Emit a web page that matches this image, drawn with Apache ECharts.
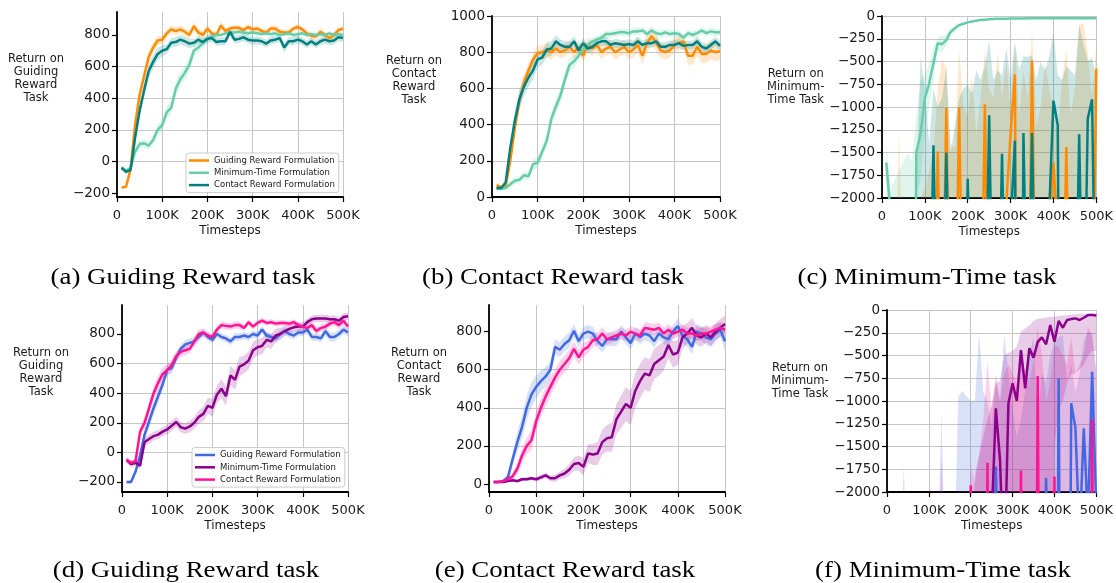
<!DOCTYPE html>
<html><head><meta charset="utf-8">
<script src="https://cdn.jsdelivr.net/npm/echarts@6/dist/echarts.min.js"></script>
<style>html,body{margin:0;padding:0;background:#fff}#c{width:1116px;height:583px}</style>
</head><body><div id="c"></div>
<script>
// ---------- data (x in thousands of timesteps) ----------
const steps = [10,20,30,40,50,60,70,80,90,100,110,120,130,140,150,160,170,180,190,200,
  210,220,230,240,250,260,270,280,290,300,310,320,330,340,350,360,370,380,390,400,
  410,420,430,440,450,460,470,480,490,500];
const xTickLabels = ['0','100K','200K','300K','400K','500K'];
const legendNames = ['Guiding Reward Formulation','Minimum-Time Formulation','Contact Reward Formulation'];
const captions = ['(a) Guiding Reward task','(b) Contact Reward task','(c) Minimum-Time task',
  '(d) Guiding Reward task','(e) Contact Reward task','(f) Minimum-Time task'];
const yNames = ['Return on\nGuiding\nReward\nTask','Return on\nContact\nReward\nTask','Return on\nMinimum-\nTime Task',
  'Return on\nGuiding\nReward\nTask','Return on\nContact\nReward\nTask','Return on\nMinimum-\nTime Task'];
const ticksA = [-200,0,200,400,600,800];
const ticksB = [0,200,400,600,800,1000];
const ticksC = [-2000,-1750,-1500,-1250,-1000,-750,-500,-250,0];
const ticksD = [-200,0,200,400,600,800];
const ticksE = [0,200,400,600,800];
const ticksF = [-2000,-1750,-1500,-1250,-1000,-750,-500,-250,0];
const offChart = -6000;

// (a) top row, Guiding Reward task
const aGuiding = [-165,-160,-50,230,420,540,660,720,765,770, 810,835,825,835,820,800,855,815,800,840,
  810,800,860,825,840,845,845,830,850,835, 840,825,815,840,840,820,815,815,840,850, 835,810,795,790,820,800,780,800,830,840];
const aGuidingSd = [8,8,15,30,40,40,40,35,30,25, 25,25,25,25,25,25,25,25,25,25, 20,20,25,20,20,20,20,20,20,20,
  20,20,20,20,20,20,20,20,20,20, 20,20,20,20,25,20,20,20,20,20];
const aMinTime = [-40,-60,-40,60,110,115,100,135,200,230, 310,340,460,520,560,610,700,720,750,775,
  790,800,800,810,815,815,820,815,810,815, 810,805,810,805,810,800,805,810,800,805, 810,800,805,800,805,800,810,800,805,800];
const aMinTimeSd = [15,15,15,20,25,25,25,30,35,40, 40,40,45,45,45,45,40,35,30,25, 20,20,15,15,15,15,15,15,15,15,
  15,15,15,15,15,15,15,15,15,15, 15,15,15,15,15,15,15,15,15,15];
const aContact = [-40,-65,-55,150,320,450,570,630,680,700, 710,750,755,770,760,745,750,770,755,775,
  780,755,760,760,820,770,775,785,770,765, 765,760,745,765,770,780,720,760,760,770, 760,740,760,740,760,770,760,765,785,780];
const aContactSd = [15,15,15,30,40,45,45,45,40,35, 30,30,30,30,30,30,25,25,25,25, 25,25,25,25,25,25,25,25,25,25,
  25,25,25,25,25,25,30,25,25,25, 25,25,25,25,25,25,25,25,25,25];

// (b) top row, Contact Reward task
const bGuiding = [65,55,60,200,380,530,630,700,760,795, 800,810,800,820,800,810,830,800,830,780,
  840,820,840,800,820,830,800,815,830,800, 815,840,780,850,890,850,810,800,810,840, 850,860,780,780,830,790,790,810,800,805];
const bGuidingSd = [15,10,15,40,50,50,45,40,40,40, 40,40,40,35,35,35,35,35,35,35, 40,40,40,40,40,40,40,40,40,40,
  40,45,50,50,50,45,40,40,40,40, 40,40,50,50,50,50,50,50,50,50];
const bMinTime = [45,45,50,70,90,95,120,115,180,190, 250,310,430,500,560,650,730,750,780,810,
  840,860,870,880,900,900,905,910,910,905, 915,915,920,900,920,905,900,910,900,905, 900,880,905,895,905,920,905,915,910,910];
const bMinTimeSd = [10,10,10,15,20,20,20,25,30,30, 35,35,40,40,45,45,40,35,30,25, 20,20,20,20,20,20,20,20,20,20,
  20,20,20,20,20,20,20,20,20,20, 20,20,20,20,20,20,20,20,20,20];
const bContact = [50,50,80,270,420,540,610,660,700,760, 770,815,820,860,840,830,830,860,810,850,
  820,830,850,860,860,840,850,845,840,845, 840,860,840,850,850,860,830,830,840,840, 850,835,840,840,860,830,820,840,860,835];
const bContactSd = [10,10,20,40,50,55,55,50,50,45, 40,40,40,35,30,30,30,30,30,30, 25,25,25,25,25,25,25,25,25,25,
  25,25,25,25,25,25,25,25,25,25, 25,25,25,25,25,25,25,25,25,25];

// (c) top row, Minimum-Time task (values below -2000 run off the chart)
const cGuiding = [-4000,-4000,-4000,-4000,-4000,-4000,-4000,-4000,-4000,-4000,
  -4000,-4000,-1490,-4000,-1010,-4000,-4000,-1000,-4000,-4000,
  -4000,-4000,-4000,-970,-4000,-4000,-4000,-4000,-2050,-1300,
  -640,-9000,-4000,-4000,-490,-4000,-4000,-4000,-2400,-1610,
  -2400,-4000,-1440,-4000,-4000,-4000,-4000,-4000,-4000,-580];
const cGuidingHi = [-3000,-3000,-3000,-1270,-3000,-3000,-3000,-3000,-2000,-1900,
  -1700,-1500,-800,-480,-560,-1400,-1450,-370,-1000,-1100,
  -650,-1300,-900,-380,-800,-900,-400,-900,-500,-1050,
  -300,-1100,-600,-900,-170,-1200,-1000,-500,-800,-1000,
  -1300,-700,-350,-1100,-800,-100,-80,-400,-900,-300];
const cMinTime = [-1610,-2170,-4000,-4000,-4000,-4000,-9000,-1500,-1290,-905,
  -740,-520,-300,-310,-265,-175,-135,-100,-85,-70,
  -60,-52,-45,-40,-36,-33,-31,-30,-29,-28,
  -27,-27,-27,-26,-26,-26,-26,-26,-26,-26,
  -26,-26,-26,-25,-25,-25,-25,-25,-25,-25];
const cMinTimeHi = [-1380,-1900,-1800,-1700,-1600,-1510,-1600,-1100,-700,-650,
  -520,-350,-230,-220,-200,-140,-110,-85,-72,-60,
  -52,-46,-40,-36,-32,-30,-28,-27,-26,-25,
  -25,-24,-24,-23,-23,-23,-23,-23,-23,-23,
  -23,-23,-23,-22,-22,-22,-22,-22,-22,-22];
const cMinTimeLo = [-2400,-3000,-3000,-3000,-3000,-3000,-3000,-2000,-1800,-1300,
  -1000,-700,-380,-400,-330,-210,-165,-120,-100,-82,
  -70,-60,-52,-46,-42,-38,-35,-34,-33,-32,
  -31,-31,-30,-30,-30,-30,-30,-30,-30,-30,
  -30,-30,-30,-29,-29,-29,-29,-29,-29,-29];
const cContact = [-4000,-4000,-4000,-4000,-4000,-4000,-4000,-4000,-4000,-4000,
  -4000,-1420,-4000,-4000,-1500,-4000,-4000,-4000,-4000,-1790,
  -4000,-4000,-4000,-4000,-1090,-4000,-4000,-1515,-4000,-2300,
  -1370,-9000,-1285,-4000,-1285,-4000,-4000,-4000,-2150,-930,
  -1200,-9000,-4000,-4000,-4000,-1300,-4000,-1130,-915,-4000];
const cContactHi = [-3000,-3000,-3000,-3000,-3000,-3000,-3000,-1900,-460,-800,
  -1400,-800,-1000,-900,-560,-1500,-1200,-900,-800,-750,
  -850,-600,-700,-550,-270,-700,-600,-650,-350,-700,
  -280,-600,-440,-450,-430,-700,-500,-600,-450,-180,
  -650,-700,-550,-600,-650,-100,-300,-500,-450,-700];

// (d) bottom row, Guiding Reward task
const dGuiding = [-200,-200,-130,-20,120,210,300,380,460,560, 570,640,700,730,740,750,780,810,780,760,
  800,780,770,750,780,780,790,780,800,790, 830,790,780,770,800,820,800,790,810,810, 830,780,780,770,820,780,780,800,830,810];
const dGuidingSd = [10,10,20,30,40,45,45,45,40,35, 35,30,30,30,30,30,30,25,25,25, 25,25,25,25,25,25,25,25,25,25,
  25,25,25,25,25,25,25,25,25,25, 25,25,25,25,30,30,30,30,30,30];
const dMinTime = [-50,-80,-70,-90,70,90,110,120,140,155, 180,205,170,160,175,200,240,260,315,300,
  390,430,380,520,490,580,595,620,690,710, 720,760,750,790,800,820,835,845,850,850, 880,900,905,905,905,900,900,890,915,920];
const dMinTimeSd = [20,20,20,25,25,30,30,30,30,35, 35,35,35,35,40,40,45,50,55,60, 60,65,65,65,65,65,60,60,60,55,
  55,50,50,45,40,35,30,30,30,30, 25,25,25,25,25,25,25,25,25,25];
const dContact = [-50,-70,-60,140,200,300,400,470,530,555, 590,650,680,690,700,750,800,810,790,780,
  830,860,855,850,860,860,840,880,850,875, 890,875,880,870,875,875,870,880,860,850, 840,860,820,840,850,870,880,860,890,850];
const dContactSd = [15,15,20,30,40,40,45,45,45,40, 40,35,35,35,30,30,30,25,25,25, 25,25,25,25,25,25,20,20,20,20,
  20,20,20,20,20,20,20,20,20,20, 25,25,25,25,25,25,25,25,25,25];

// (e) bottom row, Contact Reward task
const eGuiding = [10,10,15,35,130,220,300,400,470,510, 540,565,600,720,705,735,755,805,750,790,
  800,790,750,725,760,760,760,800,770,740, 790,770,790,780,750,790,770,760,800,830, 780,760,720,800,790,770,760,790,810,750];
const eGuidingSd = [5,5,10,20,40,50,60,65,65,60, 55,50,45,40,40,40,40,35,35,35, 35,35,35,35,35,35,35,35,35,35,
  35,35,35,35,35,35,35,35,35,40, 40,40,40,40,40,40,40,40,40,50];
const eMinTime = [10,10,10,15,20,15,25,25,30,25, 35,45,30,30,45,55,75,105,110,90,
  160,155,160,220,240,245,340,380,420,400, 490,540,580,570,630,650,670,730,680,690, 770,790,820,780,770,790,770,800,820,840];
const eMinTimeSd = [5,5,5,5,10,10,10,10,10,10, 15,15,15,20,20,25,30,35,40,45, 50,55,60,65,70,75,80,85,90,90,
  90,90,85,85,80,80,75,70,70,65, 60,55,50,50,50,45,45,45,45,45];
const eContact = [10,10,15,25,40,80,150,200,230,330, 400,460,510,560,600,630,660,710,665,705,
  720,755,760,790,760,770,780,790,780,800, 790,780,820,815,810,820,790,810,790,800, 810,790,790,780,790,790,800,810,820,810];
const eContactSd = [5,5,10,15,20,30,40,45,50,50, 50,50,50,45,45,45,45,40,40,40, 35,35,35,35,30,30,30,30,30,30,
  30,30,30,30,30,30,30,30,30,30, 30,30,30,30,30,30,30,30,30,30];

// (f) bottom row, Minimum-Time task
const fGuiding = [-4000,-4000,-4000,-4000,-4000,-4000,-4000,-4000,-4000,-4000,
  -4000,-4000,-4000,-4000,-4000,-4000,-4000,-4000,-4000,-4000,
  -4000,-4000,-4000,-4000,-4000,-1720,-4000,-4000,-4000,-4000,
  -4000,-4000,-4000,-4000,-4000,-4000,-4000,-1845,-4000,-9000,
  -750,-9000,-9000,-1025,-1295,-2500,-1300,-2300,-680,-2200];
const fGuidingHi = [-3000,-3000,-3000,-1722,-3000,-3000,-3000,-3000,-3000,-3000,
  -3000,-3000,-1130,-3000,-3000,-3000,-950,-890,-950,-1000,
  -1000,-240,-900,-1000,-1300,-800,-1000,-256,-700,-1100,
  -1400,-1200,-900,-500,-300,-1200,-700,-800,-500,-350,
  -300,-280,-800,-600,-900,-700,-330,-240,-250,-650];
const fMinTime = [-4000,-4000,-4000,-4000,-4000,-4000,-4000,-4000,-4000,-4000,
  -4000,-4000,-4000,-4000,-4000,-4000,-4000,-4000,-4000,-4000,
  -4000,-4000,-4000,-4000,-2300,-1080,-1650,-3000,-1025,-805,
  -1000,-440,-860,-420,-525,-350,-300,-377,-165,-350,
  -120,-195,-110,-100,-92,-110,-85,-56,-56,-60];
const fMinTimeHi = [-3000,-3000,-3000,-3000,-3000,-3000,-3000,-3000,-3000,-3000,
  -3000,-3000,-3000,-3000,-3000,-3000,-3000,-3000,-3000,-3000,
  -1800,-1600,-1400,-1200,-1040,-800,-780,-500,-470,-450,
  -400,-240,-200,-170,-120,-95,-90,-85,-75,-73,
  -65,-60,-55,-50,-48,-45,-44,-40,-38,-38];
const fMinTimeLo = [-6000,-6000,-6000,-6000,-6000,-6000,-6000,-6000,-6000,-6000,
  -6000,-6000,-6000,-6000,-6000,-6000,-6000,-6000,-6000,-6000,
  -6000,-6000,-6000,-6000,-6000,-6000,-6000,-6000,-6000,-6000,
  -6000,-6000,-6000,-6000,-6000,-6000,-6000,-6000,-6000,-1500,
  -1100,-1000,-800,-700,-700,-650,-600,-500,-450,-450];
const fContact = [-9000,-9000,-9000,-9000,-9000,-9000,-9000,-9000,-9000,-9000,
  -9000,-9000,-9000,-9000,-9000,-9000,-9000,-9000,-9000,-1925,
  -9000,-9000,-9000,-1680,-9000,-9000,-9000,-9000,-9000,-9000,
  -9000,-1765,-9000,-9000,-9000,-725,-9000,-9000,-9000,-1830,
  -9000,-9000,-9000,-9000,-9000,-9000,-9000,-9000,-1200,-9000];
const fContactHi = [-3000,-3000,-3000,-3000,-3000,-3000,-3000,-3000,-3000,-3000,
  -3000,-3000,-1630,-3000,-3000,-3000,-3000,-3000,-3000,-1700,
  -1900,-1600,-1200,-570,-1100,-700,-1000,-700,-600,-700,
  -800,-600,-650,-800,-550,-200,-500,-1000,-800,-400,
  -400,-500,-600,-300,-700,-600,-500,-180,-300,-700];

// ---------- styling ----------
const topColors = ['#ff8c00','#66cdaa','#008080'];
const botColors = ['#4169e1','#8b008b','#ff1493'];
const txt = '#1a1a1a';
const gridC = '#c6c6c6';
const FONT = 'DejaVu Sans';

const sdBand = (m, s) => ({lo: m.map((v,i)=>v - s[i]), hi: m.map((v,i)=>v + s[i])});
const floorOf = (hi) => hi.map(() => offChart);

const panels = [
  {left:117, top:12, width:226, height:185, yMin:-225, yMax:945, step:200, ticks:ticksA, topLine:false, gap:81, colors:topColors,
   lines:[aGuiding,aMinTime,aContact], bands:[sdBand(aGuiding,aGuidingSd),sdBand(aMinTime,aMinTimeSd),sdBand(aContact,aContactSd)]},
  {left:492, top:16, width:228, height:181, yMin:0, yMax:1000, step:200, ticks:ticksB, topLine:true, gap:78, colors:topColors,
   lines:[bGuiding,bMinTime,bContact], bands:[sdBand(bGuiding,bGuidingSd),sdBand(bMinTime,bMinTimeSd),sdBand(bContact,bContactSd)]},
  {left:882, top:16, width:215, height:182, yMin:-2000, yMax:0, step:250, ticks:ticksC, topLine:true, gap:86, colors:topColors,
   lines:[cGuiding,cMinTime,cContact], bands:[{lo:floorOf(cGuidingHi),hi:cGuidingHi},{lo:cMinTimeLo,hi:cMinTimeHi},{lo:floorOf(cContactHi),hi:cContactHi}]},
  {left:122, top:305, width:226, height:187, yMin:-268, yMax:996, step:200, ticks:ticksD, topLine:false, gap:81, colors:botColors,
   lines:[dGuiding,dMinTime,dContact], bands:[sdBand(dGuiding,dGuidingSd),sdBand(dMinTime,dMinTimeSd),sdBand(dContact,dContactSd)]},
  {left:489, top:305, width:236, height:187, yMin:-42, yMax:940, step:200, ticks:ticksE, topLine:false, gap:70, colors:botColors,
   lines:[eGuiding,eMinTime,eContact], bands:[sdBand(eGuiding,eGuidingSd),sdBand(eMinTime,eMinTimeSd),sdBand(eContact,eContactSd)]},
  {left:887, top:310, width:215, height:182, yMin:-2000, yMax:0, step:250, ticks:ticksF, topLine:true, gap:87, colors:botColors,
   lines:[fGuiding,fMinTime,fContact], bands:[{lo:floorOf(fGuidingHi),hi:fGuidingHi},{lo:fMinTimeLo,hi:fMinTimeHi},{lo:floorOf(fContactHi),hi:fContactHi}]}
];
const captionPos = [[183,278],[553,278],[927,278],[186,571],[565,571],[943,571]];

const pts = ys => steps.map((x,i)=>[x, ys[i]]);
const minus = v => String(v).replace('-', '\u2212');

const option = {animation:false, backgroundColor:'#fff', textStyle:{fontFamily:FONT},
  grid:[], xAxis:[], yAxis:[], series:[], legend:[], graphic:[]};

panels.forEach((p, gi) => {
  option.grid.push({left:p.left, top:p.top, width:p.width, height:p.height});
  option.xAxis.push({type:'value', gridIndex:gi, min:0, max:500, interval:100,
    name:'Timesteps', nameLocation:'middle', nameGap:28,
    nameTextStyle:{fontSize:12, color:txt, fontFamily:FONT, verticalAlign:'top'},
    axisLine:{show:true, onZero:false, lineStyle:{color:'#000', width:1.8}},
    axisTick:{show:true, length:5, lineStyle:{color:'#000', width:1.2}},
    axisLabel:{fontSize:13, color:txt, fontFamily:FONT, margin:12, formatter: v => xTickLabels[Math.round(v/100)]},
    splitLine:{show:true, lineStyle:{color:gridC, width:1}}});
  option.yAxis.push({type:'value', gridIndex:gi, min:p.yMin, max:p.yMax, minInterval:p.step, maxInterval:p.step,
    name:yNames[gi], nameLocation:'middle', nameRotate:0, nameGap:p.gap,
    nameTextStyle:{fontSize:11.5, lineHeight:13, color:txt, fontFamily:FONT, align:'center', verticalAlign:'bottom'},
    axisLine:{show:true, onZero:false, lineStyle:{color:'#000', width:1.8}},
    axisTick:{show:true, length:5, customValues:p.ticks, lineStyle:{color:'#000', width:1.2}},
    axisLabel:{fontSize:13.5, color:txt, fontFamily:FONT, margin:7, customValues:p.ticks, formatter: minus},
    splitLine:{show:true, showMinLine:p.topLine, showMaxLine:p.topLine, lineStyle:{color:gridC, width:1}}});
  // shaded bands: polygons through the axis scales, clipped to the plot area
  p.bands.forEach((b, k) => {
    option.series.push({type:'custom', name:'band'+gi+'_'+k, xAxisIndex:gi, yAxisIndex:gi, silent:true, z:1,
      data:[[steps[0], b.hi[0]]],
      renderItem:(params, api) => {
        const upper = steps.map((x,i)=>api.coord([x, b.hi[i]]));
        const lower = steps.map((x,i)=>api.coord([x, b.lo[i]])).reverse();
        const cs = params.coordSys;
        return {type:'polygon', shape:{points: upper.concat(lower)},
          style:{fill:p.colors[k], opacity:0.2},
          clipPath:{type:'rect', shape:{x:cs.x, y:cs.y, width:cs.width, height:cs.height}}};
      }});
  });
  // mean lines
  p.lines.forEach((ys, k) => {
    option.series.push({type:'line', name:legendNames[k], xAxisIndex:gi, yAxisIndex:gi, data:pts(ys),
      symbol:'none', showSymbol:false, clip:true, lineStyle:{width:2.5, color:p.colors[k]}, itemStyle:{color:p.colors[k]}, z:3+k});
  });
  option.graphic.push({type:'text', x:captionPos[gi][0], y:captionPos[gi][1], scaleX:1.12,
    style:{text:captions[gi], font:'24px "Liberation Serif"', fill:'#000', align:'center', verticalAlign:'middle',
      textAlign:'center', textVerticalAlign:'middle'}});
});

const mkLegend = (left, top, colors) => ({orient:'vertical', left:left, top:top, selectedMode:false,
  icon:'rect', itemWidth:20, itemHeight:2.5, itemGap:2.3, padding:[2.5,4,2.5,3],
  borderColor:'#cccccc', borderWidth:1, borderRadius:3, backgroundColor:'rgba(255,255,255,0.85)',
  textStyle:{fontSize:8.5, lineHeight:10, color:txt, fontFamily:FONT},
  data: legendNames.map((n,k)=>({name:n, itemStyle:{color:colors[k]}}))});
option.legend.push(mkLegend(186, 153, topColors));
option.legend.push(mkLegend(192, 447.5, botColors));

const chart = echarts.init(document.getElementById('c'), null, {renderer:'canvas'});
chart.setOption(option);
</script></body></html>
